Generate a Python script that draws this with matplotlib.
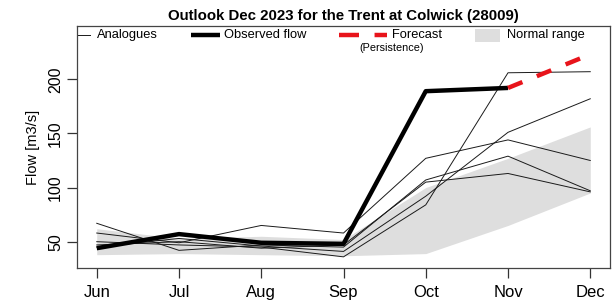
import matplotlib
matplotlib.use("Agg")
import matplotlib.pyplot as plt
import numpy as np

plt.rcParams['font.family'] = ['Liberation Sans', 'DejaVu Sans']

#=========================== DATA ===========================================#
months = ['Jun', 'Jul', 'Aug', 'Sep', 'Oct', 'Nov', 'Dec']

observed = [44, 57, 49, 48, 189, 192]
forecast_months = ['Nov', 'Dec']
forecast = [192, 223]

analogue_a = [50, 47, 45, 36, 84, 206, 207]
analogue_b = [45, 53, 46, 41, 92, 151, 182]
analogue_c = [58, 49, 65, 58, 127, 144, 125]
analogue_d = [67, 42, 47, 45, 107, 129, 97]
analogue_e = [47, 50, 44, 47, 105, 113, 96]
analogues = [analogue_a, analogue_b, analogue_c, analogue_d, analogue_e]

normal_low = [38, 39, 38, 37, 39, 65, 95]
normal_high = [62, 53, 55, 52, 100, 127, 156]

#=========================== PLOT ===========================================#
fig = plt.figure(figsize=(6.12, 3.04), dpi=100)
ax = fig.add_axes([77/612, 36/304, 533/612, 242/304])

x = np.arange(len(months))
ax.fill_between(x, normal_low, normal_high, color='#dedede', linewidth=0)

for a in analogues:
  ax.plot(x, a, color='#1a1a1a', linewidth=0.7)

ax.plot(x[:len(observed)], observed, color='black', linewidth=3.2, solid_capstyle='butt')
fx = [months.index(m) for m in forecast_months]
ax.plot(fx, forecast, color='#e8141b', linewidth=3.2, dashes=(3.5, 3.5), solid_capstyle='butt', dash_capstyle='butt')

ax.set_xlim(-0.24, 6.24)
ax.set_ylim(25.7, 249.2)
ax.set_xticks(x)
ax.set_xticklabels(months, fontsize=12)
ax.set_yticks([50, 100, 150, 200])
ax.set_yticklabels(['50', '100', '150', '200'], fontsize=11.5, rotation=90, va='center')
ax.tick_params(axis='both', length=7, width=0.9, color='#333333')
ax.tick_params(axis='x', pad=5)
ax.tick_params(axis='y', pad=3)
for s in ax.spines.values():
  s.set_color('#444444')
  s.set_linewidth(0.9)

ax.set_ylabel('Flow [m3/s]', fontsize=10.5, labelpad=6)
ax.set_title('Outlook Dec 2023 for the Trent at Colwick (28009)', fontsize=10.8, fontweight='bold', pad=4)

# legend drawn by hand across the top of the box
T = ax.transAxes
def fx_(px): return (px - 77) / 533.
def fy_(py): return (268 - py) / 242.
ly = fy_(35)
ax.plot([fx_(77), fx_(90)], [ly, ly], color='#1a1a1a', linewidth=0.7, transform=T, clip_on=False)
ax.text(fx_(97), ly, 'Analogues', fontsize=9.3, va='center', transform=T)
ax.plot([fx_(191), fx_(220)], [ly, ly], color='black', linewidth=3.2, transform=T, solid_capstyle='butt')
ax.text(fx_(224), ly, 'Observed flow', fontsize=9.3, va='center', transform=T)
ax.plot([fx_(339), fx_(387)], [ly, ly], color='#e8141b', linewidth=3.2, dashes=(4.5, 3.5), transform=T, dash_capstyle='butt')
ax.text(fx_(392), ly, 'Forecast', fontsize=9.3, va='center', transform=T)
ax.text(fx_(392), fy_(48), '(Persistence)', fontsize=7.8, va='center', ha='center', transform=T)
ax.add_patch(plt.Rectangle((fx_(475), fy_(42)), fx_(500) - fx_(475), fy_(29) - fy_(42), transform=T, color='#dedede', linewidth=0))
ax.text(fx_(507), ly, 'Normal range', fontsize=9.3, va='center', transform=T)

fig.savefig('out.png', dpi=100)
